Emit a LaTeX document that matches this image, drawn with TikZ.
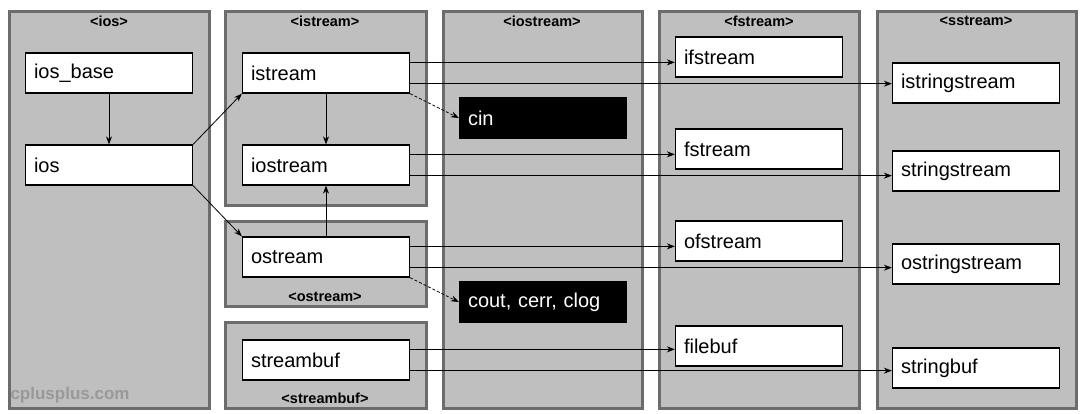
\documentclass[tikz,border=0pt]{standalone}
\usepackage{fontspec}
\setmainfont{Liberation Sans}
\usetikzlibrary{positioning, arrows.meta}
\tikzset{
every group/.style={draw=gray!85!black, line width=3pt, fill=black!25},
cls/.style={draw, fill=white, line width=1.3pt, minimum width=167, minimum height=40,
  text width=150, align=left, inner xsep=8, font=\fontsize{20}{24}\selectfont},
obj/.style={cls, fill=black, text=white},
hdr/.style={font=\bfseries\fontsize{14.5}{17}\selectfont},
arr/.style={-{Stealth[length=8pt, width=6pt]}, line width=0.8pt},
}

\begin{document}
\begin{tikzpicture}[x=1pt, y=-1pt]
    \useasboundingbox (0,0) rectangle (1083,413);

    % header groups
    \draw[every group] (9,11) rectangle (209,408);
    \draw[every group] (225,11) rectangle (426,205);
    \draw[every group] (225,221) rectangle (426,306);
    \draw[every group] (225,322) rectangle (426,408);
    \draw[every group] (443,11) rectangle (642,408);
    \draw[every group] (659,11) rectangle (859,408);
    \draw[every group] (877,11) rectangle (1076,408);

    \node[hdr] (hios) at (109,21) {<ios>};
    \node[hdr] (histream) at (325,21) {<istream>};
    \node[hdr] (hostream) at (325,297) {<ostream>};
    \node[hdr] (hstreambuf) at (325,398) {<streambuf>};
    \node[hdr] (hiostream) at (542,21) {<iostream>};
    \node[hdr] (hfstream) at (759,21) {<fstream>};
    \node[hdr] (hsstream) at (976,21) {<sstream>};
    \node[font=\bfseries\fontsize{17}{19}\selectfont, text=black!40, anchor=west] (site) at (7,395) {cplusplus.com};

    % classes
    \node[cls] (ios_base) at (109,73) {ios\_base};
    \node[cls] (ios) at (109,165) {ios};
    \node[cls] (istream) at (326,73) {istream};
    \node[cls] (iostream) at (326,165) {iostream};
    \node[cls] (ostream) at (326,257) {ostream};
    \node[cls] (streambuf) at (326,360) {streambuf};
    \node[obj] (cin) at (543,118) {cin};
    \node[obj] (cout) at (543,302) {cout, cerr, clog};
    \node[cls] (ifstream) at (759,57) {ifstream};
    \node[cls] (fstream) at (759,149) {fstream};
    \node[cls] (ofstream) at (759,241) {ofstream};
    \node[cls] (filebuf) at (759,346) {filebuf};
    \node[cls] (istringstream) at (976,83) {istringstream};
    \node[cls] (stringstream) at (976,171) {stringstream};
    \node[cls] (ostringstream) at (976,264) {ostringstream};
    \node[cls] (stringbuf) at (976,368) {stringbuf};

    % inheritance
    \draw[arr] (ios_base) -- (ios);
    \draw[arr] (ios.north east) -- (istream.south west);
    \draw[arr] (ios.south east) -- (ostream.north west);
    \draw[arr] (istream) -- (iostream);
    \draw[arr] (ostream) -- (iostream);
    \draw[arr, densely dashed] (istream.south east) -- (cin.west);
    \draw[arr, densely dashed] (ostream.south east) -- (cout.west);

    % horizontal links
    \coordinate (i1) at ([yshift=-10pt]istream.north east);
    \coordinate (i2) at ([yshift=10pt]istream.south east);
    \coordinate (io1) at ([yshift=-10pt]iostream.north east);
    \coordinate (io2) at ([yshift=10pt]iostream.south east);
    \coordinate (o1) at ([yshift=-10pt]ostream.north east);
    \coordinate (o2) at ([yshift=10pt]ostream.south east);
    \coordinate (s1) at ([yshift=-10pt]streambuf.north east);
    \coordinate (s2) at ([yshift=10pt]streambuf.south east);
    \draw[arr] (i1) -- (i1 -| ifstream.west);
    \draw[arr] (i2) -- (i2 -| istringstream.west);
    \draw[arr] (io1) -- (io1 -| fstream.west);
    \draw[arr] (io2) -- (io2 -| stringstream.west);
    \draw[arr] (o1) -- (o1 -| ofstream.west);
    \draw[arr] (o2) -- (o2 -| ostringstream.west);
    \draw[arr] (s1) -- (s1 -| filebuf.west);
    \draw[arr] (s2) -- (s2 -| stringbuf.west);
\end{tikzpicture}
\end{document}
